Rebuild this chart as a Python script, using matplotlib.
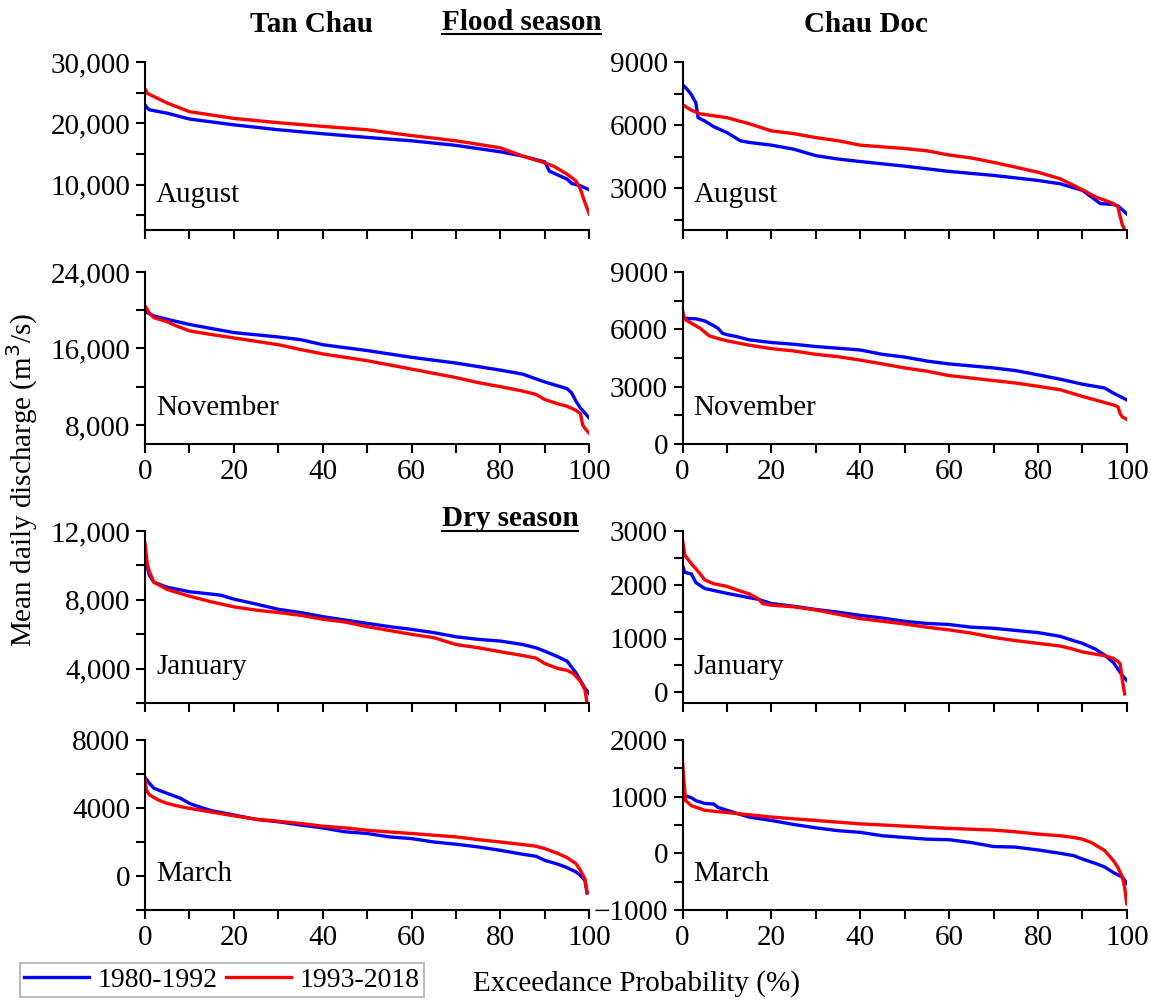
import matplotlib
matplotlib.use("Agg")
import matplotlib.pyplot as plt
from matplotlib.lines import Line2D
from matplotlib.ticker import MultipleLocator, StrMethodFormatter

plt.rcParams['font.family'] = ['Liberation Serif', 'DejaVu Serif']

# exceedance probability (%) / discharge (m3/s); p1 = 1980-1992, p2 = 1993-2018
# Tan Chau, August
tc_aug_x1 = [0, 0.5, 1, 5, 10, 20, 30, 40, 50, 60, 70, 80, 85, 90, 91, 95, 96, 98, 100]
tc_aug_y1 = [23000, 22500, 22200, 21650, 20700, 19750, 18950, 18300, 17700, 17150, 16400,
             15350, 14650, 13700, 12200, 10900, 10200, 9800, 9150]
tc_aug_x2 = [0, 0.5, 5, 10, 20, 30, 40, 50, 60, 70, 80, 85, 90, 92, 95, 97, 98, 99, 100]
tc_aug_y2 = [25600, 24900, 23300, 21900, 20800, 20100, 19500, 18950, 18000, 17150, 16000,
             14650, 13550, 13000, 11700, 10600, 9250, 7100, 5200]

# Chau Doc, August
cd_aug_x1 = [0, 1, 2, 3, 3.5, 5, 7, 10, 13, 15, 20, 25, 30, 35, 40, 50, 60, 70, 80, 85,
             90, 92, 94, 97, 98, 100]
cd_aug_y1 = [7920, 7710, 7440, 7050, 6350, 6190, 5920, 5640, 5250, 5170, 5040, 4850, 4540,
             4380, 4260, 4040, 3790, 3600, 3360, 3200, 2890, 2580, 2260, 2210, 2150, 1770]
cd_aug_x2 = [0, 2, 4, 10, 15, 20, 25, 30, 35, 40, 50, 55, 60, 65, 70, 75, 80, 85, 90, 93,
             95, 97, 98, 98.5, 99, 99.6]
cd_aug_y2 = [6970, 6700, 6530, 6350, 6060, 5720, 5590, 5400, 5250, 5040, 4880, 4770, 4570,
             4430, 4220, 3990, 3750, 3440, 2920, 2570, 2420, 2260, 2100, 1630, 1240, 990]

# Tan Chau, November
tc_nov_x1 = [0, 2, 5, 10, 15, 20, 30, 35, 40, 50, 60, 70, 80, 85, 90, 95, 96, 97, 98, 99, 100]
tc_nov_y1 = [19860, 19400, 19050, 18510, 18080, 17660, 17200, 16920, 16390, 15780, 15070,
             14470, 13730, 13310, 12490, 11790, 11360, 10480, 9770, 9240, 8710]
tc_nov_x2 = [0, 1, 2, 5, 7, 10, 15, 20, 30, 35, 40, 50, 60, 70, 75, 80, 85, 88, 90, 93, 95,
             97, 98, 98.5, 99, 100]
tc_nov_y2 = [20460, 19680, 19220, 18790, 18370, 17840, 17450, 17100, 16390, 15890, 15430,
             14720, 13840, 12950, 12420, 12000, 11540, 11190, 10650, 10190, 9950, 9520,
             9170, 8000, 7650, 7120]

# Chau Doc, November
cd_nov_x1 = [0, 3, 5, 7, 8, 9, 10, 12, 15, 20, 25, 30, 40, 45, 50, 55, 60, 70, 75, 80, 85,
             90, 95, 97, 100]
cd_nov_y1 = [6580, 6550, 6440, 6190, 6050, 5790, 5720, 5630, 5450, 5310, 5220, 5100, 4920,
             4690, 4550, 4340, 4190, 3980, 3840, 3620, 3390, 3130, 2930, 2660, 2310]
cd_nov_x2 = [0, 0.5, 2, 4, 6, 8, 10, 15, 20, 25, 30, 35, 40, 45, 50, 55, 60, 65, 70, 75, 80,
             85, 87, 90, 95, 97, 98, 98.5, 99, 100]
cd_nov_y2 = [6970, 6530, 6320, 6050, 5660, 5520, 5400, 5170, 4990, 4870, 4690, 4570, 4390,
             4190, 3980, 3810, 3580, 3450, 3320, 3190, 3020, 2840, 2700, 2490, 2170, 2040,
             1950, 1590, 1410, 1290]

# Tan Chau, January
tc_jan_x1 = [0, 0.5, 1, 2, 5, 10, 15, 17, 20, 25, 30, 35, 40, 50, 55, 60, 65, 70, 75, 80,
             85, 88, 90, 93, 95, 97, 99, 100]
tc_jan_y1 = [10500, 9910, 9420, 9020, 8730, 8470, 8330, 8270, 8040, 7750, 7450, 7260, 7020,
             6630, 6440, 6280, 6090, 5850, 5700, 5600, 5400, 5210, 5010, 4680, 4430, 3750,
             2870, 2540]
tc_jan_x2 = [0, 0.5, 1, 2, 5, 10, 15, 20, 25, 30, 35, 40, 45, 50, 60, 65, 70, 75, 80, 85,
             88, 90, 93, 95, 96.5, 98, 99, 99.5]
tc_jan_y2 = [11280, 10110, 9620, 9020, 8600, 8210, 7880, 7590, 7400, 7260, 7100, 6870, 6710,
             6440, 5990, 5800, 5400, 5210, 4980, 4760, 4610, 4290, 4000, 3900, 3700, 3260,
             2770, 2000]

# Chau Doc, January
cd_jan_x1 = [0, 0.5, 2, 3, 5, 10, 15, 17, 20, 25, 30, 35, 40, 45, 50, 55, 60, 65, 70, 75,
             80, 85, 88, 90, 93, 95, 97, 99, 100]
cd_jan_y1 = [2360, 2230, 2200, 2040, 1930, 1840, 1760, 1730, 1650, 1600, 1540, 1490, 1430,
             1380, 1320, 1280, 1260, 1210, 1190, 1150, 1110, 1040, 960, 910, 800, 690, 550,
             310, 220]
cd_jan_x2 = [0, 0.5, 2, 4, 5, 7, 10, 12, 15, 17, 18, 20, 25, 30, 35, 40, 45, 50, 55, 60,
             65, 70, 75, 80, 85, 88, 90, 95, 97, 98, 98.5, 99, 99.5]
cd_jan_y2 = [2830, 2550, 2390, 2200, 2090, 2020, 1970, 1910, 1830, 1740, 1650, 1620, 1590,
             1530, 1450, 1370, 1320, 1270, 1210, 1160, 1100, 1020, 960, 910, 860, 800, 750,
             680, 630, 570, 530, 220, -30]

# Tan Chau, March
tc_mar_x1 = [0, 1, 2, 5, 8, 10, 12, 15, 20, 25, 30, 35, 40, 45, 50, 55, 60, 65, 70, 75, 80,
             85, 88, 90, 93, 95, 97, 98, 99, 99.5]
tc_mar_y1 = [5800, 5450, 5160, 4860, 4570, 4270, 4080, 3840, 3590, 3330, 3190, 3000, 2830,
             2600, 2500, 2300, 2200, 2000, 1870, 1710, 1510, 1280, 1160, 920, 690, 490, 240,
             40, -260, -1000]
tc_mar_x2 = [0, 0.3, 1, 3, 5, 8, 10, 15, 20, 25, 30, 35, 40, 45, 50, 55, 60, 65, 70, 75, 80,
             85, 88, 90, 93, 95, 97, 98, 99, 99.5]
tc_mar_y2 = [5740, 5050, 4770, 4470, 4270, 4080, 3980, 3760, 3540, 3340, 3220, 3090, 2930,
             2830, 2690, 2590, 2500, 2400, 2300, 2140, 2000, 1850, 1750, 1610, 1320, 1080,
             730, 330, -160, -950]

# Chau Doc, March
cd_mar_x1 = [0, 0.5, 2, 3, 5, 7, 8, 10, 12, 15, 20, 25, 30, 35, 40, 45, 50, 55, 60, 65, 70,
             75, 80, 85, 88, 90, 93, 95, 97, 99, 100]
cd_mar_y1 = [1140, 1020, 980, 930, 880, 870, 810, 760, 710, 640, 580, 510, 450, 400, 370,
             310, 280, 250, 240, 190, 120, 110, 60, 0, -40, -100, -180, -240, -340, -420, -530]
cd_mar_x2 = [0, 0.3, 0.7, 2, 5, 10, 15, 20, 25, 30, 35, 40, 50, 60, 70, 75, 80, 85, 88, 90,
             92, 95, 96, 97, 98, 99, 99.5, 100]
cd_mar_y2 = [1610, 1280, 930, 840, 760, 720, 680, 640, 610, 580, 550, 520, 480, 440, 410,
             380, 340, 310, 280, 250, 190, 50, -40, -130, -250, -420, -600, -890]

labels = ['1980-1992', '1993-2018']
colors = ['#0000ff', '#ff0000']

# (row, col, month, data, ylim, major step, minor step, comma format)
panels = [
    (0, 0, 'August', (tc_aug_x1, tc_aug_y1, tc_aug_x2, tc_aug_y2), (2600, 30000), 10000, 5000, True),
    (0, 1, 'August', (cd_aug_x1, cd_aug_y1, cd_aug_x2, cd_aug_y2), (1000, 9000), 3000, 1500, False),
    (1, 0, 'November', (tc_nov_x1, tc_nov_y1, tc_nov_x2, tc_nov_y2), (6000, 24000), 8000, 4000, True),
    (1, 1, 'November', (cd_nov_x1, cd_nov_y1, cd_nov_x2, cd_nov_y2), (0, 9000), 3000, 1500, False),
    (2, 0, 'January', (tc_jan_x1, tc_jan_y1, tc_jan_x2, tc_jan_y2), (2000, 12000), 4000, 2000, True),
    (2, 1, 'January', (cd_jan_x1, cd_jan_y1, cd_jan_x2, cd_jan_y2), (-200, 3000), 1000, 500, False),
    (3, 0, 'March', (tc_mar_x1, tc_mar_y1, tc_mar_x2, tc_mar_y2), (-2000, 8000), 4000, 2000, False),
    (3, 1, 'March', (cd_mar_x1, cd_mar_y1, cd_mar_x2, cd_mar_y2), (-1000, 2000), 1000, 500, False),
]

col_x = [0.126, 0.593]
col_w = 0.386
row_y = [0.770, 0.556, 0.297, 0.090]
row_h = [0.168, 0.172, 0.172, 0.170]

fig = plt.figure(figsize=(11.51, 10), dpi=100)

fs = 21
for row, col, month, (x1, y1, x2, y2), ylim, major, minor, comma in panels:
    ax = fig.add_axes([col_x[col], row_y[row], col_w, row_h[row]])
    ax.plot(x1, y1, color=colors[0], lw=2.4, solid_joinstyle='round')
    ax.plot(x2, y2, color=colors[1], lw=2.4, solid_joinstyle='round')
    ax.set_xlim(0, 100)
    ax.set_ylim(*ylim)
    ax.spines['top'].set_visible(False)
    ax.spines['right'].set_visible(False)
    for s in ('left', 'bottom'):
        ax.spines[s].set_linewidth(1.5)
    ax.xaxis.set_major_locator(MultipleLocator(20))
    ax.xaxis.set_minor_locator(MultipleLocator(10))
    ax.set_yticks(list(range(ylim[1], ylim[0] - 1, -major)))
    ax.set_yticks(list(range(ylim[1] - minor, ylim[0] - 1, -major)), minor=True)
    if comma:
        ax.yaxis.set_major_formatter(StrMethodFormatter('{x:,.0f}'))
    else:
        ax.yaxis.set_major_formatter(StrMethodFormatter('{x:.0f}'))
    ax.tick_params(which='both', direction='out', length=6.5, width=1.5, labelsize=fs, pad=4)
    if row in (0, 2):
        ax.tick_params(axis='x', labelbottom=False)
    ax.text(0.025, 0.21, month, transform=ax.transAxes, fontsize=fs, va='center', ha='left')

fig.text(0.271, 0.975, 'Tan Chau', fontsize=fs, fontweight='bold', ha='center', va='center')
fig.text(0.752, 0.975, 'Chau Doc', fontsize=fs, fontweight='bold', ha='center', va='center')
t1 = fig.text(0.453, 0.978, 'Flood season', fontsize=fs, fontweight='bold', ha='center', va='center')
t2 = fig.text(0.443, 0.481, 'Dry season', fontsize=fs, fontweight='bold', ha='center', va='center')

fig.text(0.019, 0.52, 'Mean daily discharge (m$^3$/s)', fontsize=fs, rotation=90,
         ha='center', va='center')
fig.text(0.553, 0.016, 'Exceedance Probability (%)', fontsize=fs, ha='center', va='center')

handles = [Line2D([], [], color=c, lw=2.4) for c in colors]
leg = fig.legend(handles, labels, loc='lower left', bbox_to_anchor=(0.015, 0.0), ncol=2,
                 fancybox=False, edgecolor='#999999', fontsize=20, handlelength=2.35,
                 columnspacing=0.3, handletextpad=0.3, borderpad=0.15, borderaxespad=0.1)
leg.get_frame().set_linewidth(1.2)

# underline the season headings
fig.canvas.draw()
inv = fig.transFigure.inverted()
for t in (t1, t2):
    bb = t.get_window_extent().transformed(inv)
    fig.add_artist(Line2D([bb.x0, bb.x1], [bb.y0 + 0.002, bb.y0 + 0.002],
                          color='black', lw=1.5, transform=fig.transFigure))

fig.savefig('out.png', dpi=100)
